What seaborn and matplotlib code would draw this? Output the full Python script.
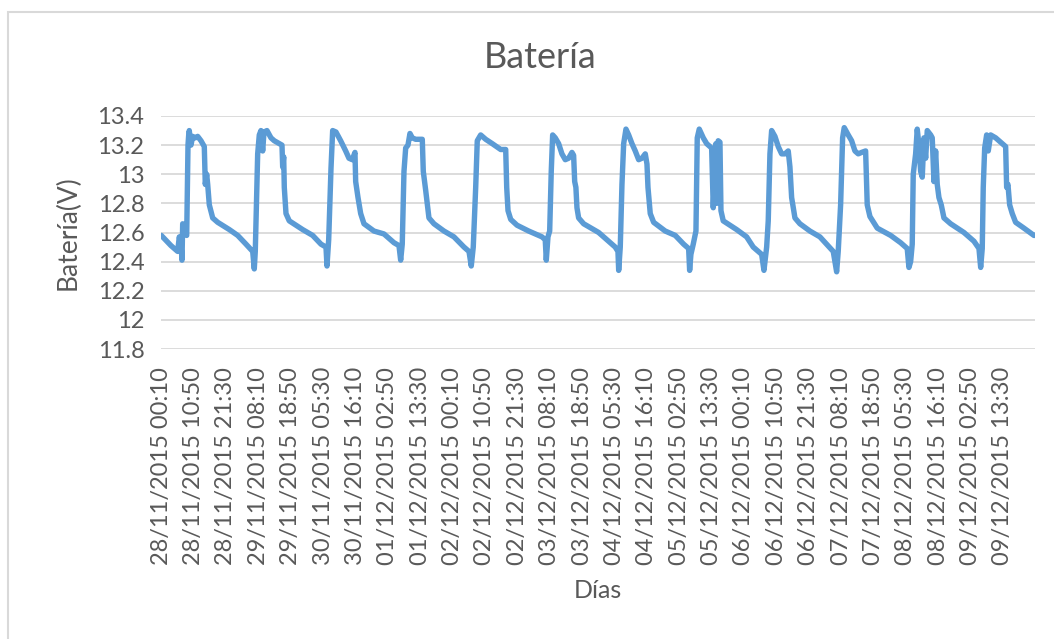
import matplotlib
matplotlib.use("Agg")
import matplotlib.pyplot as plt
from matplotlib.patches import Rectangle
import seaborn as sns

# hours since 28/11/2015 00:00
hours = [0.17, 3.37, 5.58, 6.11, 6.67, 7.0, 7.23, 7.99, 8.55, 8.98, 9.21, 9.4, 9.96, 10.52,
         11.38, 12.17, 13.26, 14.35, 14.68, 15.14, 15.47, 16.0, 17.12, 18.76, 22.6, 25.35,
         28.09, 30.3, 30.82, 31.15, 31.94, 32.47, 33.03, 33.59, 34.02, 35.0, 36.32, 37.41,
         39.06, 39.95, 40.18, 40.51, 40.71, 41.27, 42.35, 46.77, 50.06, 52.8, 54.45, 54.78,
         55.34, 56.1, 56.65, 57.74, 59.29, 60.94, 62.02, 63.11, 64.0, 64.23, 65.0, 65.88,
         66.97, 70.26, 73.56, 76.85, 78.5, 79.06, 79.58, 80.15, 80.71, 81.47, 82.12, 82.88,
         84.0, 86.18, 86.51, 87.3, 88.38, 90.03, 93.33, 96.62, 99.92, 101.57, 102.32, 102.98,
         103.78, 104.3, 105.42, 107.07, 109.25, 112.02, 113.67, 114.0, 114.43, 115.32, 117.4,
         121.25, 125.63, 126.7, 127.04, 127.6, 128.16, 128.68, 129.14, 130.0, 131.12, 132.2,
         133.3, 134.4, 135.5, 136.05, 136.4, 136.8, 137.15, 137.7, 139.35, 144.3, 147.6,
         149.76, 150.66, 150.9, 151.42, 151.98, 152.54, 153.3, 154.19, 155.28, 156.36, 157.48,
         158.57, 159.66, 160.22, 160.55, 161.3, 162.42, 166.24, 169.54, 172.3, 173.95, 174.28,
         174.7, 175.47, 176.36, 176.79, 177.45, 178.77, 179.9, 181.53, 182.06, 182.95, 183.18,
         183.7, 184.27, 184.6, 185.35, 189.77, 193.06, 195.24, 198.01, 198.77, 199.66, 200.18,
         200.74, 201.3, 202.39, 203.48, 204.6, 205.68, 206.77, 207.33, 207.89, 208.98, 210.62,
         213.92, 217.21, 219.42, 221.6, 222.72, 223.24, 224.03, 224.69, 225.22, 226.54, 227.66,
         228.75, 229.84, 230.95, 232.27, 232.8, 233.69, 236.1, 240.51, 243.8, 245.98, 246.54,
         247.1, 247.63, 247.96, 248.75, 249.28, 249.84, 250.4, 250.93, 251.49, 252.05, 252.58,
         253.7, 254.22, 254.78, 255.34, 255.87, 256.43, 257.19, 258.08, 260.29, 264.67, 267.97,
         269.62, 270.18, 270.7, 271.03, 271.5, 272.15, 272.68, 273.47, 275.12, 276.77, 278.41,
         278.74, 279.17, 279.73, 280.59, 281.7, 284.44, 287.73, 288.0]

voltage = [12.58, 12.51, 12.47, 12.57, 12.52, 12.41, 12.66, 12.6, 12.58, 13.2, 13.27, 13.3, 13.2, 13.26,
           13.25, 13.26, 13.23, 13.19, 12.93, 13.0, 12.93, 12.79, 12.7, 12.67, 12.62, 12.58,
           12.52, 12.47, 12.35, 12.47, 13.14, 13.27, 13.3, 13.16, 13.29, 13.3, 13.25, 13.23,
           13.21, 13.2, 13.05, 13.12, 12.91, 12.73, 12.68, 12.62, 12.58, 12.52, 12.5, 12.37,
           12.55, 13.04, 13.3, 13.29, 13.23, 13.16, 13.11, 13.1, 13.15, 12.95, 12.84, 12.73,
           12.66, 12.61, 12.59, 12.53, 12.51, 12.41, 12.52, 13.02, 13.18, 13.2, 13.28, 13.25,
           13.24, 13.24, 13.02, 12.89, 12.7, 12.66, 12.61, 12.57, 12.5, 12.47, 12.37, 12.5,
           12.91, 13.23, 13.27, 13.24, 13.21, 13.17, 13.17, 12.91, 12.75, 12.69, 12.65,
           12.61, 12.57, 12.55, 12.41, 12.57, 12.61, 13.02, 13.27, 13.25, 13.21, 13.14,
           13.1, 13.11, 13.15, 13.13, 12.95, 12.91, 12.77, 12.7, 12.66, 12.6, 12.54,
           12.5, 12.47, 12.34, 12.5, 12.93, 13.21, 13.31, 13.27, 13.21, 13.16, 13.1,
           13.11, 13.14, 13.07, 12.91, 12.73, 12.67, 12.61, 12.58, 12.52, 12.49, 12.34,
           12.45, 12.52, 12.61, 13.25, 13.31, 13.25, 13.21, 13.18, 12.77, 13.21, 12.8,
           13.23, 13.22, 12.75, 12.68, 12.62, 12.57, 12.5, 12.45, 12.34, 12.5, 12.68,
           13.14, 13.3, 13.26, 13.19, 13.14, 13.14, 13.16, 13.05, 12.84, 12.7, 12.66,
           12.61, 12.57, 12.52, 12.47, 12.33, 12.47, 12.79, 13.25, 13.32, 13.27, 13.23,
           13.16, 13.14, 13.15, 13.16, 12.79, 12.71, 12.63, 12.58, 12.53, 12.49, 12.36,
           12.4, 12.52, 13.0, 13.14, 13.31, 13.2, 13.02, 12.98, 13.25, 13.11, 13.3,
           13.27, 13.25, 12.95, 13.16, 12.93, 12.84, 12.79, 12.7, 12.66, 12.6, 12.54,
           12.49, 12.36, 12.49, 12.91, 13.18, 13.27, 13.16, 13.27, 13.25, 13.22, 13.19,
           12.91, 12.93, 12.79, 12.73, 12.67, 12.63, 12.58, 12.58]

tick_labels = ["28/11/2015 00:10", "28/11/2015 10:50", "28/11/2015 21:30", "29/11/2015 08:10",
               "29/11/2015 18:50", "30/11/2015 05:30", "30/11/2015 16:10", "01/12/2015 02:50",
               "01/12/2015 13:30", "02/12/2015 00:10", "02/12/2015 10:50", "02/12/2015 21:30",
               "03/12/2015 08:10", "03/12/2015 18:50", "04/12/2015 05:30", "04/12/2015 16:10",
               "05/12/2015 02:50", "05/12/2015 13:30", "06/12/2015 00:10", "06/12/2015 10:50",
               "06/12/2015 21:30", "07/12/2015 08:10", "07/12/2015 18:50", "08/12/2015 05:30",
               "08/12/2015 16:10", "09/12/2015 02:50", "09/12/2015 13:30"]
y_ticks = [11.8, 12.0, 12.2, 12.4, 12.6, 12.8, 13.0, 13.2, 13.4]
y_labels = ["11.8", "12", "12.2", "12.4", "12.6", "12.8", "13", "13.2", "13.4"]

sns.set_theme(style="white")
plt.rcParams['font.family'] = ['Lato', 'DejaVu Sans']
grey = "#595959"

fig = plt.figure(figsize=(10.54, 6.39), dpi=100)
ax = fig.add_axes([161 / 1054, 1 - 349 / 639, 874 / 1054, 233 / 639])

sns.lineplot(x=hours, y=voltage, ax=ax, color="#5B9BD5", linewidth=3.9,
             sort=False, estimator=None)

# ticks every 64 samples of 10 minutes
tick_pos = [(1 + 64 * k) / 6 for k in range(len(tick_labels))]
ax.set_xticks(tick_pos)
ax.set_xticklabels(tick_labels, rotation=90, fontsize=17, color=grey)
ax.set_yticks(y_ticks)
ax.set_yticklabels(y_labels, fontsize=17, color=grey)
ax.set_xlim(1 / 12, 288 + 1 / 12)
ax.set_ylim(11.8, 13.4)
ax.tick_params(axis="x", length=0, pad=13)
ax.tick_params(axis="y", length=0, pad=12)

ax.grid(axis="y", color="#D9D9D9", linewidth=1.3)
ax.set_axisbelow(True)
for s in ax.spines.values():
    s.set_visible(False)

ax.set_xlabel("Días", fontsize=18, color=grey, labelpad=10)
ax.set_ylabel("Batería(V)", fontsize=19, color=grey, labelpad=12)
fig.text(540 / 1054, 1 - 58 / 639, "Batería", fontsize=26, color=grey,
         ha="center", va="center")

# outer chart border
fig.add_artist(Rectangle((8 / 1054, -0.05), 1.1, 1 - 12 / 639 + 0.05,
                         transform=fig.transFigure, fill=False,
                         edgecolor="#D9D9D9", linewidth=1.5))

fig.savefig("out.png", dpi=100)
